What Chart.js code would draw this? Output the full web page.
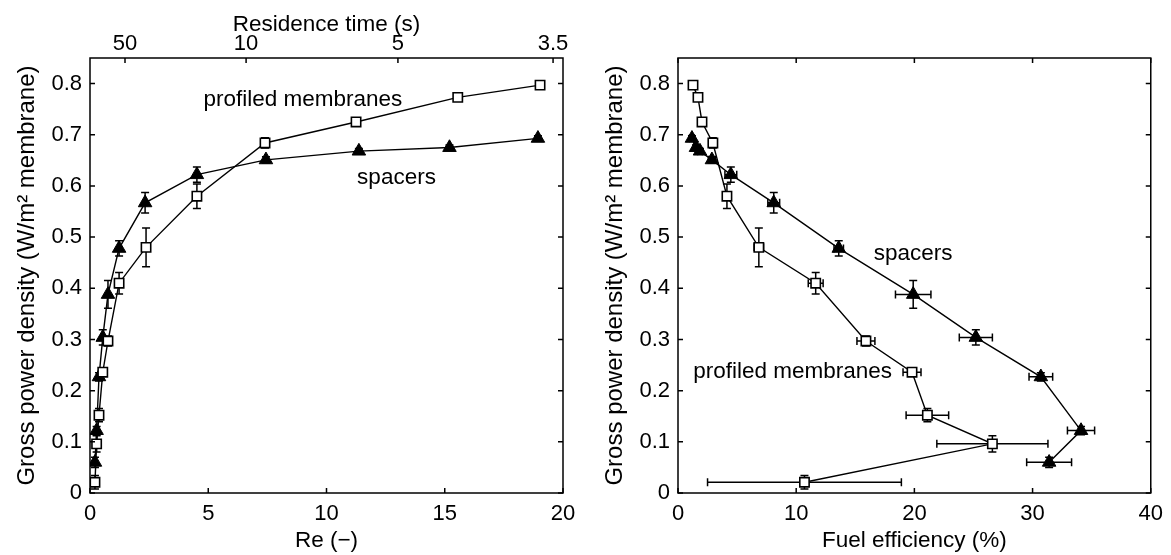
<!DOCTYPE html>
<html><head><meta charset="utf-8">
<script src="https://cdn.jsdelivr.net/npm/chart.js@4/dist/chart.umd.min.js"></script>
<style>
html,body{margin:0;padding:0;background:#fff;}
#wrap{position:relative;width:1171px;height:555px;overflow:hidden;}
canvas{position:absolute;top:0;}
</style></head><body>
<div id="wrap">
<canvas id="left" width="585" height="555" style="left:0"></canvas>
<canvas id="right" width="586" height="555" style="left:585px"></canvas>
</div>
<script>
// ---- data ----
// profiled membranes (open squares)
const membraneP      = [0.021, 0.096, 0.152, 0.236, 0.297, 0.41, 0.48, 0.58, 0.684, 0.725, 0.773, 0.797];
const membraneRe     = [0.21, 0.28, 0.38, 0.54, 0.76, 1.23, 2.37, 4.52, 7.4, 11.25, 15.55, 19.03];
const membraneEff    = [10.7, 26.6, 21.1, 19.8, 15.9, 11.65, 6.84, 4.14, 2.95, 2.03, 1.69, 1.27];
const membranePErr   = [0.013, 0.016, 0.013, 0.006, 0.01, 0.021, 0.038, 0.024, 0.01, 0.006, 0.006, 0.006];
const membraneEffErr = [8.2, 4.7, 1.8, 0.76, 0.76, 0.63, 0.4, 0.3, 0.3, 0.3, 0.3, 0.3];
// spacers (filled triangles)
const spacerP      = [0.06, 0.122, 0.227, 0.304, 0.388, 0.478, 0.567, 0.622, 0.651, 0.668, 0.675, 0.693];
const spacerRe     = [0.21, 0.28, 0.38, 0.54, 0.76, 1.23, 2.33, 4.52, 7.44, 11.37, 15.2, 18.94];
const spacerEff    = [31.4, 34.1, 30.7, 25.2, 19.9, 13.6, 8.1, 4.47, 2.87, 1.86, 1.52, 1.18];
const spacerPErr   = [0.01, 0.008, 0.008, 0.015, 0.027, 0.015, 0.02, 0.015, 0.006, 0.005, 0.005, 0.005];
const spacerEffErr = [1.9, 1.15, 1.0, 1.4, 1.5, 0.4, 0.5, 0.5, 0.3, 0.2, 0.2, 0.2];
// ticks
const yTicks = [0, 0.1, 0.2, 0.3, 0.4, 0.5, 0.6, 0.7, 0.8];
const reTicks = [0, 5, 10, 15, 20];
const effTicks = [0, 10, 20, 30, 40];
const residenceLabels = ['50', '10', '5', '3.5'];
const residenceTickRe = [1.48, 6.6, 13.02, 19.58];

const FONT = "'Liberation Sans', Arial, Helvetica, sans-serif";
Chart.defaults.font.family = FONT;
Chart.defaults.font.size = 22;
Chart.defaults.color = '#000';

const yTitle = 'Gross power density (W/m\u00B2 membrane)';

function pts(xs, ys) { return xs.map((x, i) => ({x: x, y: ys[i]})); }
function setTicks(arr) { return s => { s.ticks = arr.map(v => ({value: v})); }; }

const errorBars = {
  id: 'errorBars',
  beforeDatasetsDraw(chart) {
    const ctx = chart.ctx, xs = chart.scales.x, ys = chart.scales.y;
    ctx.save();
    ctx.strokeStyle = '#000';
    ctx.lineWidth = 1.5;
    const cap = 4;
    chart.data.datasets.forEach(ds => {
      ds.data.forEach((pt, i) => {
        const px = xs.getPixelForValue(pt.x), py = ys.getPixelForValue(pt.y);
        ctx.beginPath();
        if (ds.yErr) {
          const e = ds.yErr[i];
          const y1 = ys.getPixelForValue(pt.y - e), y2 = ys.getPixelForValue(pt.y + e);
          ctx.moveTo(px, y1); ctx.lineTo(px, y2);
          ctx.moveTo(px - cap, y1); ctx.lineTo(px + cap, y1);
          ctx.moveTo(px - cap, y2); ctx.lineTo(px + cap, y2);
        }
        if (ds.xErr) {
          const e = ds.xErr[i];
          const x1 = xs.getPixelForValue(pt.x - e), x2 = xs.getPixelForValue(pt.x + e);
          ctx.moveTo(x1, py); ctx.lineTo(x2, py);
          ctx.moveTo(x1, py - cap); ctx.lineTo(x1, py + cap);
          ctx.moveTo(x2, py - cap); ctx.lineTo(x2, py + cap);
        }
        ctx.stroke();
      });
    });
    ctx.restore();
  }
};

const frame = {
  id: 'frame',
  afterDraw(chart, args, opts) {
    const ctx = chart.ctx, a = chart.chartArea;
    const xs = chart.scales.x, ys = chart.scales.y, top = chart.scales.x2;
    const L = 5;
    ctx.save();
    ctx.strokeStyle = '#000';
    ctx.lineWidth = 1.5;
    ctx.beginPath();
    xs.ticks.forEach(t => {
      const p = xs.getPixelForValue(t.value);
      ctx.moveTo(p, a.bottom); ctx.lineTo(p, a.bottom - L);
      if (!top) { ctx.moveTo(p, a.top); ctx.lineTo(p, a.top + L); }
    });
    if (top) top.ticks.forEach(t => {
      const p = top.getPixelForValue(t.value);
      ctx.moveTo(p, a.top); ctx.lineTo(p, a.top + L);
    });
    ys.ticks.forEach(t => {
      const p = ys.getPixelForValue(t.value);
      ctx.moveTo(a.left, p); ctx.lineTo(a.left + L, p);
      ctx.moveTo(a.right, p); ctx.lineTo(a.right - L, p);
    });
    ctx.stroke();
    ctx.strokeRect(a.left, a.top, a.right - a.left, a.bottom - a.top);
    // text labels
    ctx.fillStyle = '#000';
    ctx.font = '22.5px ' + FONT;
    ctx.textAlign = 'center';
    ctx.textBaseline = 'middle';
    (opts.labels || []).forEach(l => {
      ctx.fillText(l.text, xs.getPixelForValue(l.x), ys.getPixelForValue(l.y));
    });
    ctx.restore();
  }
};

function datasets(xM, xS, withXErr) {
  return [
    {
      label: 'profiled membranes', data: pts(xM, membraneP), showLine: true,
      borderColor: '#000', borderWidth: 1.4, pointStyle: 'rect', pointRadius: 6.6,
      pointBackgroundColor: '#fff', pointBorderColor: '#000', pointBorderWidth: 1.6,
      yErr: membranePErr, xErr: withXErr ? membraneEffErr : null
    },
    {
      label: 'spacers', data: pts(xS, spacerP), showLine: true,
      borderColor: '#000', borderWidth: 1.4, pointStyle: 'triangle', pointRadius: 7.8,
      pointBackgroundColor: '#000', pointBorderColor: '#000', pointBorderWidth: 1,
      yErr: spacerPErr, xErr: withXErr ? spacerEffErr : null
    }
  ];
}

const yScale = (w, titlePad) => ({
  type: 'linear', min: 0, max: 0.85,
  afterBuildTicks: setTicks(yTicks),
  afterFit: s => { s.width = w; },
  grid: {display: false, drawTicks: false, tickLength: 0},
  border: {display: false},
  ticks: {padding: 8, callback: v => v === 0 ? '0' : v.toFixed(1)},
  title: {display: true, text: yTitle, font: {size: 24}, padding: {top: titlePad, bottom: 0}}
});

new Chart(document.getElementById('left'), {
  type: 'scatter',
  data: {datasets: datasets(membraneRe, spacerRe, false)},
  options: {
    responsive: false, animation: false,
    layout: {padding: {left: 0, right: 22, top: 0, bottom: 0}},
    plugins: {
      legend: {display: false}, tooltip: {enabled: false},
      frame: {labels: [
        {text: 'profiled membranes', x: 9.0, y: 0.768},
        {text: 'spacers', x: 12.96, y: 0.616}
      ]}
    },
    scales: {
      x: {
        type: 'linear', position: 'bottom', min: 0, max: 20,
        afterBuildTicks: setTicks(reTicks),
        afterFit: s => { s.height = 62; },
        grid: {display: false, drawTicks: false, tickLength: 0},
        border: {display: false},
        ticks: {padding: 8, autoSkip: false, maxRotation: 0},
        title: {display: true, text: 'Re (\u2212)', font: {size: 22.5}, padding: {top: 0, bottom: 1}}
      },
      x2: {
        type: 'linear', position: 'top', min: 0, max: 20,
        afterBuildTicks: setTicks(residenceTickRe),
        afterFit: s => { s.height = 58; },
        grid: {display: false, drawTicks: false, tickLength: 0},
        border: {display: false},
        ticks: {padding: 1, autoSkip: false, maxRotation: 0, callback: (v, i) => residenceLabels[i]},
        title: {display: true, text: 'Residence time (s)', font: {size: 22.5}, padding: {top: 11, bottom: 0}}
      },
      y: yScale(90, 13)
    }
  },
  plugins: [errorBars, frame]
});

new Chart(document.getElementById('right'), {
  type: 'scatter',
  data: {datasets: datasets(membraneEff, spacerEff, true)},
  options: {
    responsive: false, animation: false,
    layout: {padding: {left: 0, right: 19, top: 58, bottom: 0}},
    plugins: {
      legend: {display: false}, tooltip: {enabled: false},
      frame: {labels: [
        {text: 'spacers', x: 19.9, y: 0.468},
        {text: 'profiled membranes', x: 9.7, y: 0.236}
      ]}
    },
    scales: {
      x: {
        type: 'linear', position: 'bottom', min: 0, max: 40,
        afterBuildTicks: setTicks(effTicks),
        afterFit: s => { s.height = 62; },
        grid: {display: false, drawTicks: false, tickLength: 0},
        border: {display: false},
        ticks: {padding: 8, autoSkip: false, maxRotation: 0},
        title: {display: true, text: 'Fuel efficiency (%)', font: {size: 22.5}, padding: {top: 0, bottom: 1}}
      },
      y: yScale(93, 16)
    }
  },
  plugins: [errorBars, frame]
});
</script>
</body></html>
